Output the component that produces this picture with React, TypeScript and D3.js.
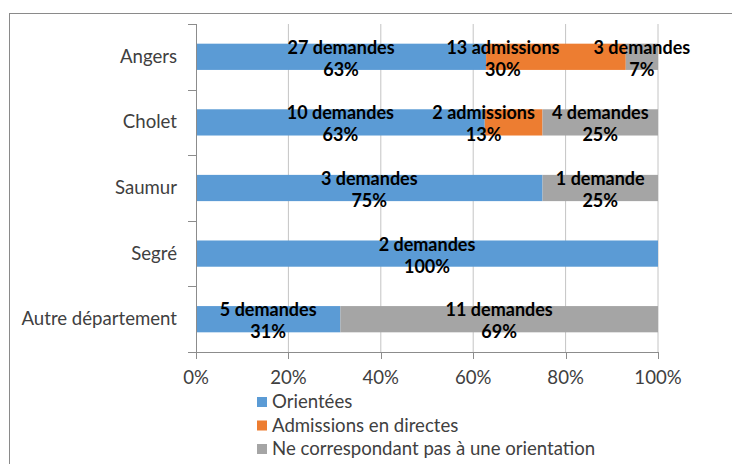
import React from 'react';
import * as d3 from 'd3';

// chart values
const categories = ['Angers', 'Cholet', 'Saumur', 'Segré', 'Autre département'];
const seriesNames = ['Orientées', 'Admissions en directes', 'Ne correspondant pas à une orientation'];
const orientees = [27, 10, 3, 2, 5];
const admissions = [13, 2, 0, 0, 0];
const horsOrientation = [3, 4, 1, 0, 11];
const unitWords = [
  ['demande', 'demandes'],
  ['admission', 'admissions'],
  ['demande', 'demandes'],
];
const xTicks = [0, 0.2, 0.4, 0.6, 0.8, 1];

const colors = ['#5B9BD5', '#ED7D31', '#A5A5A5'];
const keys = ['o', 'a', 'h'];
const FONT = 'Lato, "Open Sans", sans-serif';

// the orange labels were dragged left in the original chart
const orangeNudge: Record<string, number> = { Angers: -53, Cholet: -30 };

export default function App() {
  const width = 732;
  const height = 464;

  const rows = categories.map((c, i) => ({
    cat: c,
    o: orientees[i],
    a: admissions[i],
    h: horsOrientation[i],
  }));
  const totals = rows.map(r => r.o + r.a + r.h);

  const stack = d3.stack<any>().keys(keys).offset(d3.stackOffsetExpand);
  const layers = stack(rows);

  const x = d3.scaleLinear().domain([0, 1]).range([196, 658]);
  const y = d3.scaleBand<string>()
    .domain(categories)
    .range([24, 352])
    .paddingInner(0.6)
    .paddingOuter(0.3);
  const step = y.step();

  return (
    <svg width={width} height={height} style={{ position: 'absolute', left: 0, top: 0, display: 'block' }}>
      <rect x={0} y={0} width={width} height={height} fill="#fff" />
      <rect x={9.5} y={13.5} width={width} height={height} fill="none" stroke="#8a8a8a" />

      {/* gridlines */}
      {xTicks.slice(1).map(t => (
        <line key={t} x1={x(t)} x2={x(t)} y1={24} y2={352} stroke="#c4c4c4" />
      ))}

      {/* bars */}
      {layers.map((layer, si) => (
        <g key={si} fill={colors[si]}>
          {layer.map((d, ci) => (
            d[1] - d[0] > 0 ? (
              <rect key={ci} x={x(d[0])} y={y(categories[ci])} width={x(d[1]) - x(d[0])} height={y.bandwidth()} />
            ) : null
          ))}
        </g>
      ))}

      {/* axes */}
      <line x1={x(0) + 0.5} x2={x(0) + 0.5} y1={24} y2={352} stroke="#8c8c8c" />
      <line x1={x(0)} x2={x(1)} y1={352.5} y2={352.5} stroke="#8c8c8c" />
      {d3.range(categories.length + 1).map(i => {
        const yy = Math.round(24 + i * step) + 0.5;
        return <line key={i} x1={188} x2={196} y1={yy} y2={yy} stroke="#8c8c8c" />;
      })}
      {xTicks.map(t => (
        <line key={t} x1={Math.round(x(t)) + 0.5} x2={Math.round(x(t)) + 0.5} y1={352} y2={359} stroke="#8c8c8c" />
      ))}

      {/* category labels */}
      {categories.map(c => (
        <text key={c} x={177} y={(y(c) as number) + y.bandwidth() / 2 + 6} textAnchor="end"
          fontFamily={FONT} fontSize={18.6} fill="#404040">{c}</text>
      ))}

      {/* x tick labels */}
      {xTicks.map(t => (
        <text key={t} x={x(t)} y={384} textAnchor="middle" fontFamily={FONT} fontSize={18.6} fill="#404040">
          {d3.format('.0%')(t)}
        </text>
      ))}

      {/* data labels */}
      {layers.map((layer, si) => (
        <g key={si}>
          {layer.map((d, ci) => {
            const n = rows[ci][keys[si] as 'o' | 'a' | 'h'];
            if (!n) return null;
            const cat = categories[ci];
            let cx = (x(d[0]) + x(d[1])) / 2;
            if (si === 1) cx += orangeNudge[cat] || 0;
            const cy = (y(cat) as number) + y.bandwidth() / 2;
            const word = unitWords[si][n === 1 ? 0 : 1];
            const pct = Math.round((n / totals[ci]) * 100) + '%';
            return (
              <text key={ci} x={cx} textAnchor="middle" fontFamily={FONT} fontSize={18} fontWeight="bold" fill="#000">
                <tspan x={cx} y={cy - 3}>{`${n} ${word}`}</tspan>
                <tspan x={cx} y={cy + 19}>{pct}</tspan>
              </text>
            );
          })}
        </g>
      ))}

      {/* legend */}
      {seriesNames.map((s, i) => {
        const cy = 402 + i * 23.5;
        return (
          <g key={s}>
            <rect x={257} y={cy - 5} width={10} height={10} fill={colors[i]} />
            <text x={272} y={cy + 6} fontFamily={FONT} fontSize={18.6} fill="#404040">{s}</text>
          </g>
        );
      })}
    </svg>
  );
}
